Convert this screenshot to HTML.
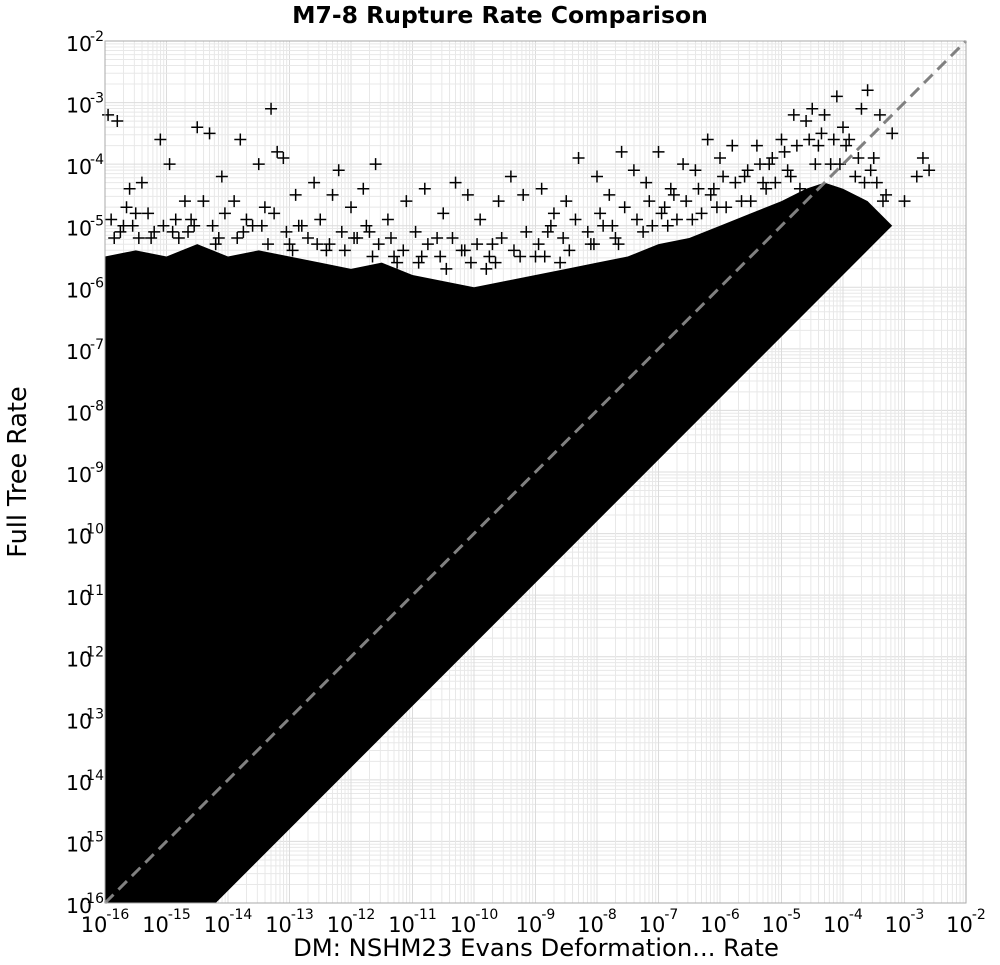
<!DOCTYPE html>
<html><head><meta charset="utf-8"><style>
html,body{margin:0;padding:0;background:#fff;}
svg{display:block;font-family:"DejaVu Sans","Liberation Sans",sans-serif;}
</style></head><body>
<svg id="chart" width="1000" height="965" viewBox="0 0 1000 965" xmlns="http://www.w3.org/2000/svg">
<text x="500" y="23" text-anchor="middle" font-size="23.5" font-weight="bold">M7-8 Rupture Rate Comparison</text>
<text x="536" y="956" text-anchor="middle" font-size="24.3">DM: NSHM23 Evans Deformation... Rate</text>
<text transform="translate(26,472) rotate(-90)" text-anchor="middle" font-size="25.5">Full Tree Rate</text>
<g id="grid"></g>
<g id="marks"></g>
<rect x="105" y="41" width="861" height="862" fill="none" stroke="#aaa" stroke-width="1"/>
<g id="ticks"></g>
</svg>
<script>
// axis decades
const tickExps = [-16,-15,-14,-13,-12,-11,-10,-9,-8,-7,-6,-5,-4,-3,-2];
// dense-region upper envelope (log10 x, log10 y)
const envX = [-16,-15.5,-15,-14.5,-14,-13.5,-13,-12.5,-12,-11.5,-11,-10.5,-10,-9.5,-9,-8.5,-8,-7.5,-7,-6.5,-6,-5.5,-5,-4.6,-4.3,-4.0,-3.6,-3.2];
const envY = [-5.5,-5.4,-5.5,-5.3,-5.5,-5.4,-5.5,-5.6,-5.7,-5.6,-5.8,-5.9,-6.0,-5.9,-5.8,-5.7,-5.6,-5.5,-5.3,-5.2,-5.0,-4.8,-4.6,-4.4,-4.3,-4.4,-4.6,-5.0];
// lower diagonal offset: y = x + diagOffset
const diagOffset = -1.8;
// scattered outlier points (log10 x, log10 y)
const ptX = [-15.95,-15.8,-15.6,-15.4,-15.1,-14.95,-14.7,-14.5,-14.3,-14.1,-13.9,-13.8,-13.5,-13.3,-13.2,-13.1,-12.9,-12.6,-12.3,-12.2,-12.0,-11.8,-11.6,-11.4,-11.1,-10.8,-10.5,-10.3,-10.1,-9.9,-9.6,-9.4,-9.2,-8.9,-8.7,-8.5,-8.3,-8.0,-7.8,-7.6,-7.4,-7.2,-7.0,-6.8,-6.6,-6.4,-6.2,-6.0,-5.8,-5.6,-5.4,-5.2,-5.0,-4.8,-4.6,-4.5,-4.4,-4.3,-4.1,-4.0,-3.9,-3.7,-3.6,-3.4,-3.2,-3.0,-2.8,-2.6,-15.7,-15.2,-14.8,-14.2,-13.6,-13.0,-12.4,-11.9,-11.3,-10.9,-10.2,-9.8,-9.0,-8.6,-8.1,-7.7,-7.1,-6.7,-6.3,-5.9,-5.5,-5.1,-4.7,-4.2,-3.8,-3.5,-3.3,-2.7,-15.5,-14.6,-13.4,-12.8,-11.7,-10.6,-9.7,-8.8,-7.9,-6.9,-6.1,-5.3,-4.9,
 -15.9,-15.75,-15.65,-15.45,-15.3,-15.05,-14.85,-14.65,-14.4,-14.25,-14.05,-13.85,-13.7,-13.45,-13.25,-13.05,-12.85,-12.7,-12.5,-12.35,-12.15,-11.95,-11.75,-11.55,-11.35,-11.15,-10.95,-10.75,-10.55,-10.35,-10.15,-9.95,-9.75,-9.55,-9.35,-9.15,-8.95,-8.75,-8.55,-8.35,-8.15,-7.95,-7.75,-7.55,-7.35,-7.15,-6.95,-6.75,-6.55,-6.35,-6.15,-5.95,-5.75,-5.55,-5.35,-5.15,-4.95,-4.75,-4.55,-4.35,-4.15,-3.95,-3.75,-3.55,-3.45,-3.35,
 -15.85,-15.55,-15.25,-14.9,-14.55,-14.15,-13.75,-13.35,-12.95,-12.55,-12.1,-11.65,-11.25,-10.85,-10.45,-10.05,-9.65,-9.25,-8.85,-8.45,-8.05,-7.65,-7.25,-6.85,-6.45,-6.05,-5.65,-5.25,-4.85,-4.45,-4.05,-3.65];
const ptY = [-3.2,-3.3,-4.4,-4.3,-3.6,-4.0,-4.6,-3.4,-3.5,-4.2,-4.6,-3.6,-4.0,-3.1,-3.8,-3.9,-4.5,-4.3,-4.5,-4.1,-4.7,-4.4,-4.0,-4.9,-4.6,-4.4,-4.8,-4.3,-4.5,-4.9,-4.6,-4.2,-4.5,-4.4,-4.8,-4.6,-3.9,-4.2,-4.5,-3.8,-4.1,-4.3,-3.8,-4.4,-4.0,-4.1,-3.6,-3.9,-3.7,-4.2,-3.7,-4.0,-3.6,-3.2,-3.3,-3.1,-3.7,-3.2,-2.9,-3.4,-3.6,-3.1,-2.8,-3.2,-3.5,-4.6,-4.2,-4.1,-5.0,-5.1,-5.2,-5.3,-5.0,-5.3,-5.4,-5.2,-5.5,-5.6,-5.4,-5.7,-5.5,-5.6,-5.3,-5.2,-5.0,-4.9,-4.8,-4.7,-4.6,-4.3,-4.4,-4.0,-4.2,-3.9,-4.5,-3.9,-4.8,-4.9,-4.7,-5.0,-5.1,-5.2,-5.3,-5.1,-5.0,-4.7,-4.4,-4.3,-4.1,
 -4.9,-5.1,-4.7,-5.2,-4.8,-5.0,-4.9,-5.1,-4.6,-5.0,-4.8,-5.2,-4.9,-5.0,-4.8,-5.1,-5.0,-5.2,-4.9,-5.3,-5.1,-5.2,-5.0,-5.3,-5.2,-5.4,-5.1,-5.3,-5.5,-5.2,-5.4,-5.3,-5.5,-5.2,-5.4,-5.1,-5.3,-5.0,-5.2,-4.9,-5.1,-4.8,-5.0,-4.7,-4.9,-4.6,-4.8,-4.5,-4.6,-4.4,-4.5,-4.2,-4.3,-4.1,-4.0,-3.9,-3.8,-3.7,-3.6,-3.5,-3.6,-3.7,-3.9,-4.1,-4.3,-4.6,
 -5.2,-5.0,-5.2,-5.1,-5.0,-5.2,-5.1,-5.3,-5.4,-5.3,-5.4,-5.5,-5.6,-5.5,-5.7,-5.6,-5.6,-5.5,-5.5,-5.4,-5.3,-5.3,-5.1,-5.0,-4.9,-4.7,-4.6,-4.4,-4.2,-4.0,-4.0,-4.3];

const L=105,R=966,T=41,B=903,NS="http://www.w3.org/2000/svg";
const sx=v=>L+(v+16)/14*(R-L);
const sy=v=>B-(v+16)/14*(B-T);
const mk=(t,a)=>{const e=document.createElementNS(NS,t);for(const k in a)e.setAttribute(k,a[k]);return e;};
const grid=document.getElementById('grid'),marks=document.getElementById('marks'),ticks=document.getElementById('ticks');
for(let i=0;i<tickExps.length-1;i++){
  for(let m=1;m<=9;m++){
    const v=tickExps[i]+Math.log10(m);
    const gx=mk('line',{x1:sx(v),x2:sx(v),y1:T,y2:B,stroke:m==1?'#dcdcdc':'#e8e8e8','stroke-width':1});
    
    
    grid.appendChild(gx);
    const gy=mk('line',{x1:L,x2:R,y1:sy(v),y2:sy(v),stroke:m==1?'#dcdcdc':'#e8e8e8','stroke-width':1});
    
    
    grid.appendChild(gy);
  }
}
// dense region polygon
let pts=[[sx(-16),sy(-16)],[sx(-16-diagOffset),sy(-16)]];
const xEnd=envX[envX.length-1];
pts.push([sx(xEnd),sy(xEnd+diagOffset)]);
for(let i=envX.length-1;i>=0;i--)pts.push([sx(envX[i]),sy(envY[i])]);
const poly=mk('polygon',{points:pts.map(p=>p.join(',')).join(' '),fill:'#000'});


marks.appendChild(poly);
// scattered crosses
for(let i=0;i<ptX.length;i++){
  const x=sx(ptX[i]),y=sy(ptY[i]);
  const p=mk('path',{d:`M${x-6},${y}H${x+6}M${x},${y-6}V${y+6}`,stroke:'#000','stroke-width':1.5});
  
  
  marks.appendChild(p);
}
// 1:1 line
const d=mk('line',{x1:sx(-16),y1:sy(-16),x2:sx(-2),y2:sy(-2),stroke:'#808080','stroke-width':3,'stroke-dasharray':'12,7'});


marks.appendChild(d);
// tick labels
tickExps.forEach(e=>{
  const ty=mk('text',{x:66,y:sy(e)+10,'font-size':20.5});
  
  
  ty.textContent='10';
  ticks.appendChild(ty);
  const tye=mk('text',{x:104,y:sy(e),'font-size':14,'text-anchor':'end'});
  
  
  tye.textContent=String(e);
  ticks.appendChild(tye);
  const tx=mk('text',{x:sx(e),y:932,'font-size':21,'text-anchor':'middle'});
  
  
  tx.innerHTML='10<tspan dx="-1" dy="-13" font-size="14">'+e+'</tspan>';
  ticks.appendChild(tx);
});
</script>
</body></html>
